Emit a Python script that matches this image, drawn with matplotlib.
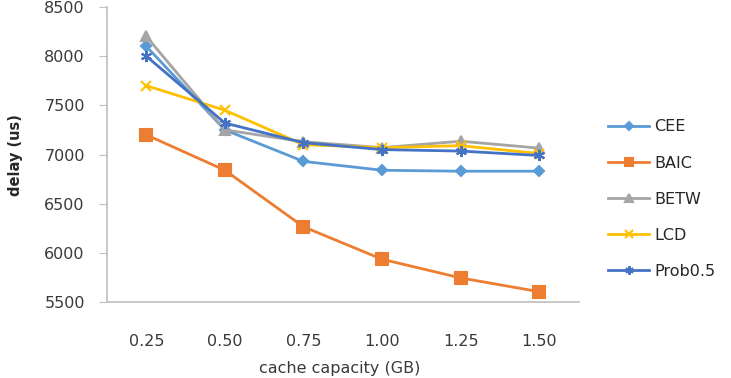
import matplotlib
matplotlib.use("Agg")
import matplotlib.pyplot as plt
import numpy as np

plt.rcParams["font.family"] = ["DejaVu Sans"]

capacity_labels = ["0.25", "0.50", "0.75", "1.00", "1.25", "1.50"]
cee = [8100, 7250, 6930, 6840, 6830, 6830]
baic = [7200, 6840, 6265, 5935, 5745, 5605]
betw = [8200, 7250, 7130, 7070, 7135, 7065]
lcd = [7700, 7450, 7100, 7070, 7090, 7010]
prob05 = [8000, 7320, 7120, 7050, 7035, 6990]

series = [
    ("CEE", cee, "#5B9BD5", "D", 5),
    ("BAIC", baic, "#ED7D31", "s", 8),
    ("BETW", betw, "#A5A5A5", "^", 7),
    ("LCD", lcd, "#FFC000", "x", 7),
    ("Prob0.5", prob05, "#4472C4", (6, 2, 0), 8),
]

fig = plt.figure(figsize=(7.31, 3.78), dpi=100)
ax = fig.add_axes([0.1464, 0.201, 0.645, 0.7805])

x = np.arange(len(capacity_labels))
for name, values, color, marker, size in series:
    ax.plot(x, values, color=color, lw=2, marker=marker, markersize=size,
            markeredgewidth=1.5, markeredgecolor=color, label=name)

ax.set_xlim(-0.5, len(capacity_labels) - 0.5)
ax.set_ylim(5500, 8500)
ax.set_yticks(np.arange(5500, 8501, 500))
ax.set_xticks(x)
ax.set_xticklabels(capacity_labels)

for side in ["top", "right"]:
    ax.spines[side].set_visible(False)
for side in ["left", "bottom"]:
    ax.spines[side].set_color("#BFBFBF")
    ax.spines[side].set_linewidth(1.2)

ax.tick_params(axis="y", length=6, color="#BFBFBF", pad=10, labelsize=11.5,
               labelcolor="#3A3A3A")
ax.tick_params(axis="x", length=0, pad=23, labelsize=11.5, labelcolor="#3A3A3A")

fig.text(0.021, 0.59, "delay (us)", rotation=90, ha="center", va="center",
         fontsize=10.5, fontweight="bold", color="#262626")
fig.text(0.465, 0.006, "cache capacity (GB)", ha="center", va="bottom",
         fontsize=11.5, color="#3A3A3A")

fig.legend(loc="upper left", bbox_to_anchor=(0.812, 0.722), frameon=False,
           fontsize=11.5, handlelength=2.6, labelspacing=1.32, handletextpad=0.3,
           markerscale=0.75, labelcolor="#262626")

fig.savefig("out.png", dpi=100)
